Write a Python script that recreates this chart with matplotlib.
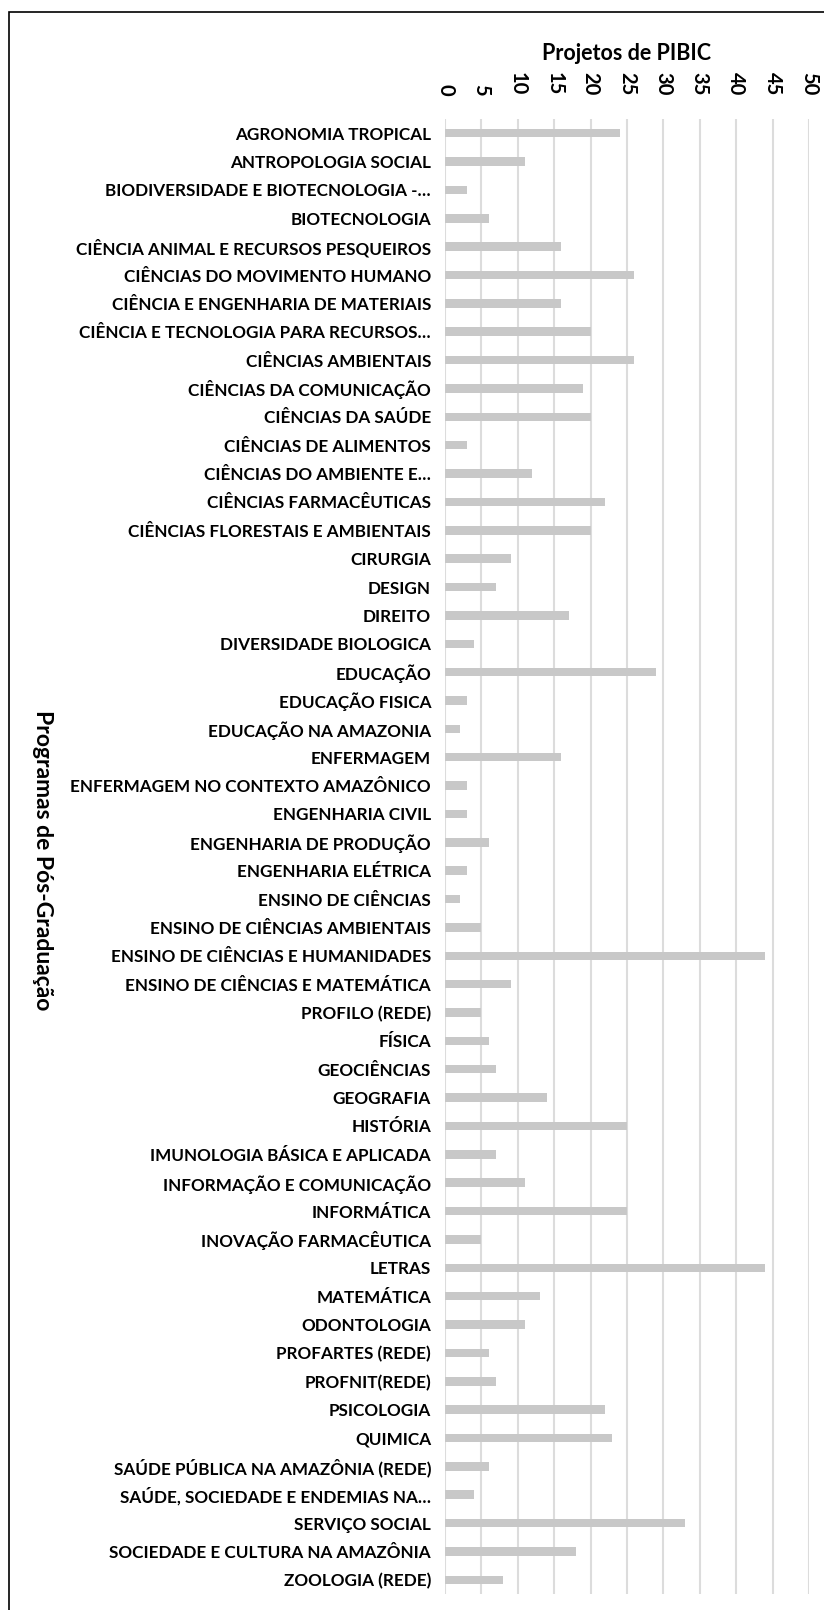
import matplotlib
matplotlib.use("Agg")
import matplotlib.pyplot as plt
from matplotlib.patches import Rectangle

programas = [
    "AGRONOMIA TROPICAL", "ANTROPOLOGIA SOCIAL", "BIODIVERSIDADE E BIOTECNOLOGIA -…",
    "BIOTECNOLOGIA", "CIÊNCIA ANIMAL E RECURSOS PESQUEIROS", "CIÊNCIAS DO MOVIMENTO HUMANO",
    "CIÊNCIA E ENGENHARIA DE MATERIAIS", "CIÊNCIA E TECNOLOGIA PARA RECURSOS…",
    "CIÊNCIAS AMBIENTAIS", "CIÊNCIAS DA COMUNICAÇÃO", "CIÊNCIAS DA SAÚDE",
    "CIÊNCIAS DE ALIMENTOS", "CIÊNCIAS DO AMBIENTE E…", "CIÊNCIAS FARMACÊUTICAS",
    "CIÊNCIAS FLORESTAIS E AMBIENTAIS", "CIRURGIA", "DESIGN", "DIREITO",
    "DIVERSIDADE BIOLOGICA", "EDUCAÇÃO", "EDUCAÇÃO FISICA", "EDUCAÇÃO NA AMAZONIA",
    "ENFERMAGEM", "ENFERMAGEM NO CONTEXTO AMAZÔNICO", "ENGENHARIA CIVIL",
    "ENGENHARIA DE PRODUÇÃO", "ENGENHARIA ELÉTRICA", "ENSINO DE CIÊNCIAS",
    "ENSINO DE CIÊNCIAS AMBIENTAIS", "ENSINO DE CIÊNCIAS E HUMANIDADES",
    "ENSINO DE CIÊNCIAS E MATEMÁTICA", "PROFILO (REDE)", "FÍSICA", "GEOCIÊNCIAS",
    "GEOGRAFIA", "HISTÓRIA", "IMUNOLOGIA BÁSICA E APLICADA", "INFORMAÇÃO E COMUNICAÇÃO",
    "INFORMÁTICA", "INOVAÇÃO FARMACÊUTICA", "LETRAS", "MATEMÁTICA", "ODONTOLOGIA",
    "PROFARTES (REDE)", "PROFNIT(REDE)", "PSICOLOGIA", "QUIMICA",
    "SAÚDE PÚBLICA NA AMAZÔNIA (REDE)", "SAÚDE, SOCIEDADE E ENDEMIAS NA…",
    "SERVIÇO SOCIAL", "SOCIEDADE E CULTURA NA AMAZÔNIA", "ZOOLOGIA (REDE)",
]
projetos = [
    24, 11, 3, 6, 16, 26, 16, 20, 26, 19, 20,
    3, 12, 22, 20, 9, 7, 17, 4, 29, 3, 2, 16,
    3, 3, 6, 3, 2, 5, 44, 9, 5, 6, 7,
    14, 25, 7, 11, 25, 5, 44, 13, 11, 6, 7,
    22, 23, 6, 4, 33, 18, 8,
]
xticks = list(range(0, 55, 5))

W, H, DPI = 824, 1610, 100
fig = plt.figure(figsize=(W / DPI, H / DPI), dpi=DPI)
ax = fig.add_axes([445 / W, 1 - 1594 / H, (809 - 445) / W, (1594 - 119) / H])

ypos = list(range(len(programas)))
ax.barh(ypos, projetos, height=0.3, color="#c8c8c8", zorder=3)
ax.set_ylim(len(programas) - 0.5, -0.5)
ax.set_xlim(0, 50)
ax.set_xticks(xticks)
ax.xaxis.tick_top()
ax.xaxis.set_label_position("top")
ax.set_xticklabels([str(t) for t in xticks], rotation=-90, fontsize=14.5,
                   fontweight="bold", family="Lato")
ax.set_yticks(ypos)
ax.set_yticklabels(programas, fontsize=12.3, fontweight="bold", family="Lato")
ax.tick_params(axis="y", length=0, pad=10)
ax.tick_params(axis="x", length=0, pad=17)
for s in ax.spines.values():
    s.set_visible(False)
ax.grid(axis="x", color="#dcdcdc", linewidth=1.5, zorder=0)
ax.set_axisbelow(True)

ax.set_xlabel("Projetos de PIBIC", fontsize=15.5, fontweight="bold", family="Lato",
              labelpad=9)
fig.text(42 / W, 1 - 860 / H, "Programas de Pós-Graduação", rotation=-90,
         ha="center", va="center", fontsize=16.5, fontweight="bold", family="Lato")

fig.patches.append(Rectangle((9 / W, -0.1), 1.2, 1 - 12 / H + 0.1,
                             transform=fig.transFigure, fill=False,
                             edgecolor="black", linewidth=1.2))

fig.savefig("out.png", dpi=DPI)
